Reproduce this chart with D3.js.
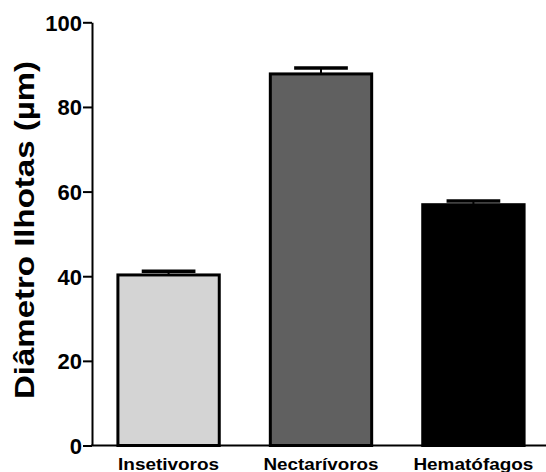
<!DOCTYPE html>
<html><head><meta charset="utf-8">
<script src="https://cdn.jsdelivr.net/npm/d3@7"></script>
<style>
html,body{margin:0;padding:0;background:#fff;}
svg{display:block;}
text{font-family:"Liberation Sans",Arial,Helvetica,sans-serif;font-weight:bold;fill:#000;}
</style></head>
<body>
<script>
const categories = ["Insetivoros", "Nectarívoros", "Hematófagos"];
const means = [40.3, 87.8, 56.9];
const errors = [0.9, 1.4, 0.9];
const fills = ["#d4d4d4", "#606060", "#000000"];
const yTicks = [0, 20, 40, 60, 80, 100];
const yTitle = "Diâmetro Ilhotas (µm)";
const labelWidths = [101, 115, 120];

const W = 546, H = 472;
const svg = d3.select("body").append("svg").attr("width", W).attr("height", H);

const axisX = 92;
const x = d3.scaleBand().domain(categories).range([axisX, 550]).paddingInner(0.335).paddingOuter(0.17);
const y = d3.scaleLinear().domain([0, 100]).range([445.5, 22.3]);

// bars
svg.selectAll("rect.bar").data(categories).enter().append("rect")
  .attr("class", "bar")
  .attr("x", d => x(d))
  .attr("width", x.bandwidth())
  .attr("y", (d, i) => y(means[i]))
  .attr("height", (d, i) => y(0) - y(means[i]))
  .attr("fill", (d, i) => fills[i])
  .attr("stroke", "#000").attr("stroke-width", 3);

// error bars
const capW = x.bandwidth() * 0.53;
categories.forEach((c, i) => {
  const cx = x(c) + x.bandwidth() / 2;
  svg.append("line").attr("x1", cx).attr("x2", cx)
    .attr("y1", y(means[i])).attr("y2", y(means[i] + errors[i]))
    .attr("stroke", "#000").attr("stroke-width", 2);
  svg.append("line").attr("x1", cx - capW / 2).attr("x2", cx + capW / 2)
    .attr("y1", y(means[i] + errors[i])).attr("y2", y(means[i] + errors[i]))
    .attr("stroke", "#000").attr("stroke-width", 3.5);
});

// y axis
const yAxis = d3.axisLeft(y).tickValues(yTicks).tickSize(9).tickSizeOuter(0).tickPadding(1);
const gy = svg.append("g").attr("transform", `translate(${axisX},0)`).call(yAxis);
gy.select(".domain").attr("stroke", "#000").attr("stroke-width", 2);
gy.selectAll(".tick line").attr("stroke", "#000").attr("stroke-width", 2);
gy.selectAll(".tick text").attr("font-size", 22).attr("font-family", '"Liberation Sans",Arial,sans-serif')
  .attr("font-weight", "bold").attr("fill", "#000").attr("dy", "0.36em");

// x axis
const xAxis = d3.axisBottom(x).tickSize(0).tickSizeOuter(0).tickFormat("");
const gx = svg.append("g").attr("transform", `translate(0,${y(0)})`).call(xAxis);
gx.select(".domain").attr("stroke", "#000").attr("stroke-width", 2)
  .attr("d", `M${axisX - 1},0H${W}`);

// x labels
svg.selectAll("text.xl").data(categories).enter().append("text")
  .attr("class", "xl")
  .attr("x", d => x(d) + x.bandwidth() / 2)
  .attr("y", 469.5)
  .attr("text-anchor", "middle")
  .attr("font-size", 16)
  .attr("textLength", (d, i) => labelWidths[i])
  .attr("lengthAdjust", "spacingAndGlyphs")
  .text(d => d);

// y title
svg.append("text")
  .attr("transform", "translate(34,230) rotate(-90)")
  .attr("text-anchor", "middle")
  .attr("font-size", 28)
  .attr("textLength", 338)
  .attr("lengthAdjust", "spacingAndGlyphs")
  .text(yTitle);
</script>
</body></html>
